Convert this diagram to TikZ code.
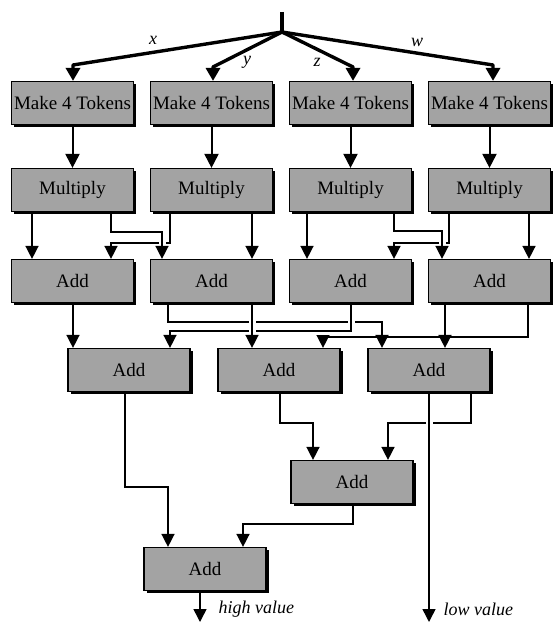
\documentclass[tikz,border=0pt]{standalone}
\usepackage{fontspec}
\setmainfont{Liberation Serif}
\usetikzlibrary{arrows.meta,shadows}
\pgfdeclarelayer{background}
\pgfsetlayers{background,main}
\begin{document}
\begin{tikzpicture}[x=1pt,y=-1pt,
  box/.style={draw=black, line width=1.2pt, fill=gray!72, minimum width=122pt, minimum height=43pt, inner sep=0pt,
    font=\fontsize{19}{21}\selectfont,
    drop shadow={shadow xshift=2.5pt, shadow yshift=-2.5pt, fill=black, opacity=1}},
  conn/.style={line width=1.5pt, -{Triangle[width=13pt,length=13pt]}},
  mconn/.style={line width=2pt, -{Triangle[width=14pt,length=14pt]}},
  tconn/.style={line width=3.4pt, line join=round, -{Triangle[width=14pt,length=13pt]}},
  halo/.style={preaction={draw=white, line width=7pt, -}},
  lab/.style={font=\fontsize{18}{20}\selectfont\itshape},
  outlab/.style={font=\fontsize{18}{20}\selectfont\itshape, anchor=west}]
\useasboundingbox (0,0) rectangle (553,623);

% boxes
\node[box] (mk1) at (72.5,103) {Make 4 Tokens};
\node[box] (mk2) at (211.5,103) {Make 4 Tokens};
\node[box] (mk3) at (350.5,103) {Make 4 Tokens};
\node[box] (mk4) at (489.5,103) {Make 4 Tokens};
\node[box] (mu1) at (72.5,190) {Multiply};
\node[box] (mu2) at (211.5,190) {Multiply};
\node[box] (mu3) at (350.5,190) {Multiply};
\node[box] (mu4) at (489.5,190) {Multiply};
\node[box] (ad1) at (72.5,281) {Add};
\node[box] (ad2) at (211.5,281) {Add};
\node[box] (ad3) at (350.5,281) {Add};
\node[box] (ad4) at (489.5,281) {Add};
\node[box] (r1) at (129,370) {Add};
\node[box] (r2) at (279,370) {Add};
\node[box] (r3) at (429,370) {Add};
\node[box] (mid) at (352,482) {Add};
\node[box] (fin) at (205,569) {Add};

% labels
\node[lab] (lx) at (153,40) {x};
\node[lab] (ly) at (247,62) {y};
\node[lab] (lz) at (317,62) {z};
\node[lab] (lw) at (417,42) {w};
\node[outlab] (hv) at (215,609) {high value};
\node[outlab] (lv) at (440,609) {low value};

\coordinate (top) at (282,12);
\coordinate (j) at (282,32);
\coordinate (hiend) at (200,622);
\coordinate (loend) at (429,622);

\begin{pgfonlayer}{background}
% top fan
\draw[line width=3.4pt] (top) -- (j);
\draw[tconn] (j) -- (73,65) -- (73,0 |- mk1.north);
\draw[tconn] (j) -- (213,67) -- (213,0 |- mk2.north);
\draw[tconn] (j) -- (353,67) -- (353,0 |- mk3.north);
\draw[tconn] (j) -- (493,65) -- (493,0 |- mk4.north);

% make -> multiply
\draw[mconn] (mk1.south) -- (mu1.north);
\draw[mconn] (mk2.south) -- (mu2.north);
\draw[mconn] (mk3.south) -- (mu3.north);
\draw[mconn] (mk4.south) -- (mu4.north);

% multiply -> add row 1
\draw[conn] (32,0 |- mu1.south) -- (32,0 |- ad1.north);
\draw[conn] (170,0 |- mu2.south) |- (111,243) -- (111,0 |- ad1.north);
\draw[conn,halo] (111,0 |- mu1.south) |- (162,232) -- (162,0 |- ad2.north);
\draw[conn] (252,0 |- mu2.south) -- (252,0 |- ad2.north);
\draw[conn] (307,0 |- mu3.south) -- (307,0 |- ad3.north);
\draw[conn] (449,0 |- mu4.south) |- (394,243) -- (394,0 |- ad3.north);
\draw[conn,halo] (394,0 |- mu3.south) |- (442,231) -- (442,0 |- ad4.north);
\draw[conn] (529,0 |- mu4.south) -- (529,0 |- ad4.north);

% add row 1 -> add row 2
\draw[conn] (73,0 |- ad1.south) -- (73,0 |- r1.north);
\draw[conn] (528,0 |- ad4.south) |- (323,337) -- (323,0 |- r2.north);
\draw[conn,halo] (168,0 |- ad2.south) |- (382,322) -- (382,0 |- r3.north);
\draw[conn,halo] (351,0 |- ad3.south) |- (170,331) -- (170,0 |- r1.north);
\draw[conn,halo] (445,0 |- ad4.south) -- (445,0 |- r3.north);
\draw[conn,halo] (252,0 |- ad2.south) -- (252,0 |- r2.north);

% add row 2 -> lower
\draw[conn] (125,0 |- r1.south) |- (168,487) -- (168,0 |- fin.north);
\draw[conn] (280,0 |- r2.south) |- (313,423) -- (313,0 |- mid.north);
\draw[conn] (471,0 |- r3.south) |- (388,423) -- (388,0 |- mid.north);
\draw[conn,halo] (429,0 |- r3.south) -- (loend);
\draw[conn] (353,0 |- mid.south) |- (243,524) -- (243,0 |- fin.north);
\draw[conn] (200,0 |- fin.south) -- (hiend);
\end{pgfonlayer}
\end{tikzpicture}
\end{document}
